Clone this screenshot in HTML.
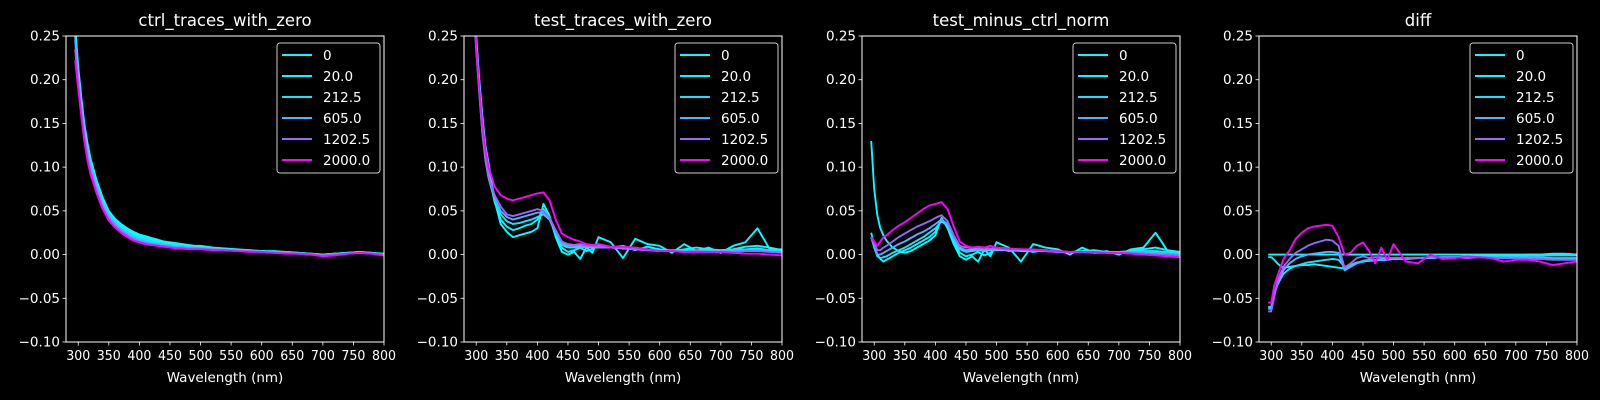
<!DOCTYPE html>
<html><head><meta charset="utf-8"><style>
html,body{margin:0;padding:0;background:#000;}
svg{display:block;font-family:"DejaVu Sans","Liberation Sans",sans-serif;}
</style></head><body>
<svg id="fig" width="1600" height="400" viewBox="0 0 1600 400" xmlns="http://www.w3.org/2000/svg">
<rect width="1600" height="400" fill="#000"/>
</svg>
<script>
const wavelengths=[295,300,305,310,315,320,330,340,350,360,370,380,390,400,410,420,430,440,450,460,470,480,490,500,520,540,560,580,600,620,640,660,680,700,720,740,760,780,800];
const seriesLabels=["0","20.0","212.5","605.0","1202.5","2000.0"];
const seriesColors=["#00ffff","#05faff","#1ee1ff","#4db2ff","#9966ff","#ff00ff"];
const panelTitles=["ctrl_traces_with_zero","test_traces_with_zero","test_minus_ctrl_norm","diff"];
const yTicks=[-0.10,-0.05,0.00,0.05,0.10,0.15,0.20,0.25];
const xTicks=[300,350,400,450,500,550,600,650,700,750,800];
// values in units of 1e-3
const ctrl0=[260,215,180,150,128,110,85,65,50,41,35,30,26,23,21,19,17,15,14,13,12,11,10,10,8,7,6,5,4,4,3,2,1,0,1,2,3,2,1];
const ctrl1=[255,210,175,146,124,106,82,62,48,39,33,28,24,21,19,17,15,14,13,12,11,10,9,9,7,6,5,5,4,3,3,2,1,0,1,2,3,2,0];
const ctrl2=[250,205,170,142,120,103,79,59,46,37,31,26,22,19,17,15,13,12,11,10,10,9,8,8,7,6,5,4,4,3,2,2,1,0,1,2,2,2,0];
const ctrl3=[245,200,166,138,116,100,76,57,44,35,29,24,20,17,15,13,12,11,10,9,9,8,8,7,6,5,5,4,3,3,2,1,1,-1,0,1,2,1,0];
const ctrl4=[235,195,162,134,112,96,73,54,41,33,27,22,18,15,13,12,11,10,9,8,8,7,7,7,6,5,4,4,3,2,2,1,0,-1,0,1,2,1,0];
const ctrl5=[222,190,158,130,108,92,70,52,39,31,25,20,16,14,12,11,10,9,8,7,7,6,6,6,5,5,4,3,3,2,1,1,0,-2,-1,1,2,1,-1];
const test0=[300,250,200,160,125,105,62,35,26,20,22,24,26,30,58,44,20,3,0,3,-5,8,2,20,14,-4,18,12,10,2,12,4,8,2,10,14,30,6,6];
const test1=[300,245,195,150,115,95,60,40,32,28,30,33,35,40,52,42,22,8,3,5,8,4,6,10,8,10,5,9,6,4,6,8,6,5,6,9,10,8,5];
const test2=[300,240,190,145,110,88,62,46,38,35,36,38,40,43,46,40,24,11,8,8,9,8,8,8,8,8,6,6,5,5,5,5,5,5,6,6,7,5,4];
const test3=[300,235,185,140,108,88,64,50,43,40,42,44,46,48,48,40,26,13,10,10,10,9,9,8,8,7,6,5,4,4,4,4,4,4,4,5,5,4,3];
const test4=[300,235,185,140,110,90,68,55,46,44,46,48,50,52,50,42,28,15,12,11,12,10,10,9,8,8,6,5,4,4,3,4,3,3,3,4,4,3,2];
const test5=[300,240,190,150,120,100,78,68,64,62,64,66,68,70,71,62,40,24,20,17,15,12,11,12,9,9,8,6,4,4,3,3,3,3,2,1,1,0,-1];
const norm0=[130,75,45,30,22,16,8,4,2,4,8,12,16,22,42,30,12,-2,-6,-2,-8,6,-2,14,8,-8,12,8,6,0,8,2,4,0,6,8,25,4,3];
const norm1=[25,10,0,-5,-8,-6,-2,2,5,8,12,16,20,26,40,32,15,2,-2,0,3,-1,2,8,4,6,3,5,4,3,4,5,3,3,4,6,8,5,3];
const norm2=[20,8,-2,-4,-3,-2,2,5,8,12,16,20,25,30,38,33,18,6,3,4,5,4,5,5,5,4,4,4,3,3,3,3,3,3,3,4,4,3,2];
const norm3=[20,10,0,0,2,4,8,12,15,19,23,26,30,35,40,35,20,8,5,6,6,6,6,6,5,5,4,4,3,3,3,3,2,2,3,3,2,1,0];
const norm4=[20,12,5,5,8,10,15,20,24,28,32,35,38,42,45,38,22,10,8,8,8,7,7,7,6,6,5,4,3,3,3,2,2,2,2,1,0,0,-1];
const norm5=[20,15,10,15,20,22,28,33,37,42,47,52,56,58,60,52,32,15,10,8,9,8,10,8,7,6,6,5,4,3,3,3,2,2,1,0,-1,-2,-3];
const diff0=[0,0,0,0,0,0,0,0,0,0,0,0,0,0,0,0,0,0,0,0,0,0,0,0,0,0,0,0,0,0,0,0,0,0,0,0,0,0,0];
const diff1=[-3,-3,-6,-10,-13,-15,-14,-13,-12,-12,-11,-12,-13,-14,-15,-16,-12,-9,-8,-7,-7,-6,-6,-5,-5,-4,-4,-3,-3,-2,-2,-2,-1,-1,0,0,1,1,0];
const diff2=[-60,-60,-45,-35,-28,-22,-16,-13,-11,-9,-8,-7,-6,-5,-6,-14,-12,-10,-8,-7,-7,-6,-6,-5,-5,-4,-4,-3,-3,-3,-2,-2,-2,-2,-1,-1,-1,-1,-1];
const diff3=[-62,-62,-45,-33,-25,-18,-10,-5,-2,0,1,2,3,3,2,-18,-14,-10,-7,-6,-6,-5,-5,-4,-4,-4,-3,-3,-3,-3,-3,-3,-3,-3,-3,-3,-4,-4,-4];
const diff4=[-65,-65,-48,-32,-22,-14,-5,2,6,10,13,15,17,16,10,-15,-10,-4,-2,-4,-3,-3,-4,-4,-4,-4,-3,-3,-3,-4,-3,-4,-4,-4,-5,-5,-6,-6,-6];
const diff5=[-55,-55,-35,-25,-15,-5,5,18,25,30,32,33,34,33,20,0,2,10,14,4,-10,8,-6,12,-8,-10,0,-5,-4,-2,-3,-4,-8,-6,-6,-8,-12,-10,-8];
const panelSeries=[[ctrl0,ctrl1,ctrl2,ctrl3,ctrl4,ctrl5],[test0,test1,test2,test3,test4,test5],[norm0,norm1,norm2,norm3,norm4,norm5],[diff0,diff1,diff2,diff3,diff4,diff5]];

const NS="http://www.w3.org/2000/svg";
const svg=document.getElementById('fig');
function mk(tag,attrs,parent){const e=document.createElementNS(NS,tag);for(const k in attrs)e.setAttribute(k,attrs[k]);(parent||svg).appendChild(e);return e;}
const lefts=[66,464,862,1259], W=318, axTop=36, axBot=342;
const xMin=280,xMax=800,yMin=-0.10,yMax=0.25;
function fmtY(v){const s=Math.abs(v).toFixed(2);return (v< -1e-9?"\u2212":"")+s;}
panelTitles.forEach((title,p)=>{
  const L=lefts[p];
  const xs=v=>L+(v-xMin)/(xMax-xMin)*W;
  const ys=v=>axBot-(v-yMin)/(yMax-yMin)*(axBot-axTop);
  const g=mk('g',{});
  
  
  const clipId='clip'+p;
  const cp=mk('clipPath',{id:clipId},g);mk('rect',{x:L,y:axTop,width:W,height:axBot-axTop},cp);
  const lines=mk('g',{'clip-path':'url(#'+clipId+')'},g);
  panelSeries[p].forEach((arr,si)=>{
    const d=arr.map((v,i)=>(i?'L':'M')+xs(wavelengths[i]).toFixed(1)+','+ys(v/1000).toFixed(1)).join('');
    const path=mk('path',{d:d,fill:'none',stroke:seriesColors[si],'stroke-width':1.9,'stroke-linejoin':'round'},lines);
    
    
  });
  const frame=mk('rect',{x:L,y:axTop,width:W,height:axBot-axTop,fill:'none',stroke:'#fff','stroke-width':1},g);
  
  
  yTicks.forEach(t=>{
    const y=ys(t);
    mk('line',{x1:L-3.5,x2:L,y1:y,y2:y,stroke:'#fff','stroke-width':0.8},g);
    const tx=mk('text',{x:L-6,y:y+4.5,'text-anchor':'end',fill:'#fff','font-size':13.5},g);
    tx.textContent=fmtY(t);
    
    
  });
  xTicks.forEach(t=>{
    const x=xs(t);
    mk('line',{x1:x,x2:x,y1:axBot,y2:axBot+3.5,stroke:'#fff','stroke-width':0.8},g);
    const tx=mk('text',{x:x,y:axBot+18,'text-anchor':'middle',fill:'#fff','font-size':13.5,textLength:24,lengthAdjust:'spacingAndGlyphs'},g);
    tx.textContent=String(t);
    
    
  });
  const xl=mk('text',{x:L+W/2,y:axBot+40,'text-anchor':'middle',fill:'#fff','font-size':13.5},g);
  xl.textContent='Wavelength (nm)';
  
  
  const tt=mk('text',{x:L+W/2,y:axTop-10,'text-anchor':'middle',fill:'#fff','font-size':16.5},g);
  tt.textContent=title;
  
  
  const lg=mk('g',{},g);
  
  
  const lx=L+W-107, ly=axTop+7;
  mk('rect',{x:lx,y:ly,width:103,height:130,rx:3,fill:'#000','fill-opacity':0.8,stroke:'#ccc','stroke-width':1},lg);
  seriesLabels.forEach((lab,si)=>{
    const ry=ly+12+si*21;
    const e=mk('g',{},lg);
    
    
    mk('line',{x1:lx+5,x2:lx+35,y1:ry,y2:ry,stroke:seriesColors[si],'stroke-width':1.9},e);
    const t=mk('text',{x:lx+46,y:ry+5,fill:'#fff','font-size':13.5},e);
    t.textContent=lab;
  });
});
</script>
</body></html>
